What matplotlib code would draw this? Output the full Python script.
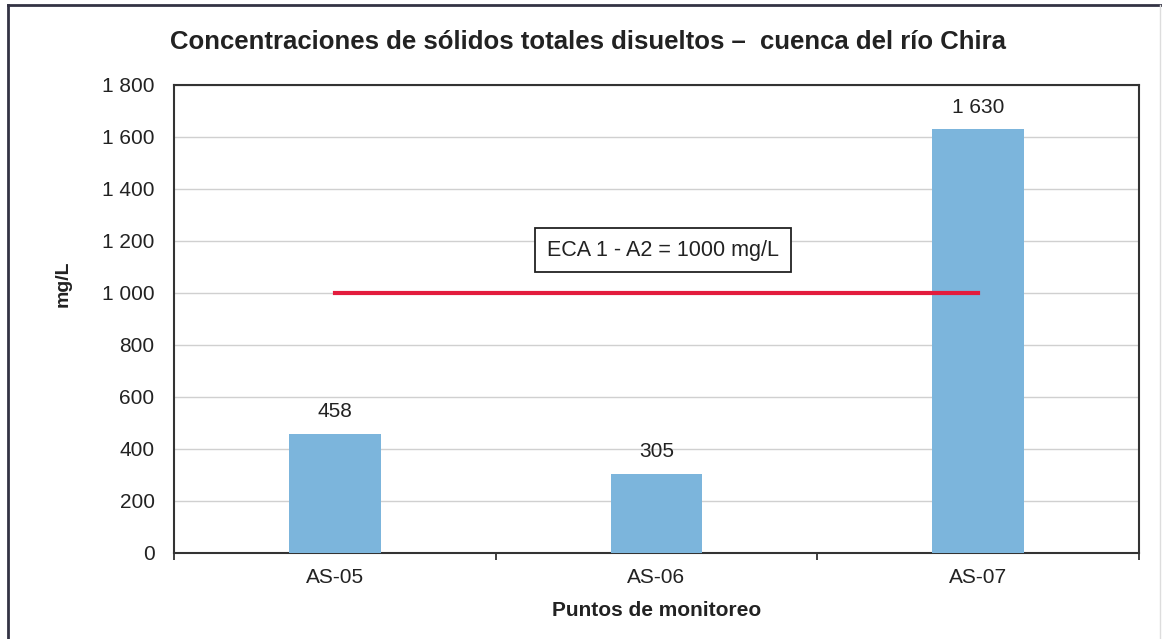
import matplotlib
matplotlib.use("Agg")
import matplotlib.pyplot as plt
from matplotlib.lines import Line2D
from matplotlib.ticker import FuncFormatter, MultipleLocator

categories = ["AS-05", "AS-06", "AS-07"]
values = [458, 305, 1630]
value_labels = ["458", "305", "1 630"]
eca_value = 1000
eca_label = "ECA 1 - A2 = 1000 mg/L"
title = "Concentraciones de sólidos totales disueltos –  cuenca del río Chira"
xlabel = "Puntos de monitoreo"
ylabel = "mg/L"

plt.rcParams['font.family'] = ['Liberation Sans', 'DejaVu Sans']

W, H = 1162, 639
fig = plt.figure(figsize=(W / 100, H / 100), dpi=100)
ax = fig.add_axes([174 / W, 1 - 553 / H, (1139 - 174) / W, (553 - 85) / H])

FS = 15
x = list(range(len(categories)))
ax.bar(x, values, width=0.286, color='#7cb5dc', zorder=3)
for xi, v, lab in zip(x, values, value_labels):
    ax.annotate(lab, (xi, v), xytext=(0, 9), textcoords='offset points',
                ha='center', va='bottom', fontsize=FS, color='#222222')

ax.plot([x[0], x[-1]], [eca_value, eca_value], color='#e31c3d', lw=3, zorder=4)
ax.text(1.02, 1165, eca_label, ha='center', va='center', fontsize=15.5, color='#222222',
        bbox=dict(boxstyle='square,pad=0.55', fc='white', ec='#222222', lw=1.3), zorder=5)

ax.set_xlim(-0.5, 2.5)
ax.set_ylim(0, 1800)
ax.yaxis.set_major_locator(MultipleLocator(200))
ax.yaxis.set_major_formatter(FuncFormatter(lambda v, p: f"{int(v):,}".replace(",", " ")))
ax.yaxis.grid(True, color='#d0d0d0', lw=1)
ax.set_axisbelow(True)

ax.set_xticks(x)
ax.set_xticklabels(categories)
ax.set_xticks([-0.5, 0.5, 1.5, 2.5], minor=True)
ax.tick_params(axis='x', which='major', length=0, pad=11, labelsize=FS, labelcolor='#222222')
ax.tick_params(axis='x', which='minor', length=5, width=1.3, direction='out', color='#333333')
ax.tick_params(axis='y', length=0, pad=14, labelsize=FS, labelcolor='#222222')

for s in ax.spines.values():
    s.set_color('#333333')
    s.set_linewidth(1.5)

ax.set_xlabel(xlabel, fontsize=15, fontweight='bold', labelpad=10, color='#222222')
fig.text(63 / W, 1 - 284 / H, ylabel, rotation=90, ha='center', va='center', fontsize=14,
         fontweight='bold', color='#222222')
fig.text(588 / W, 1 - 42 / H, title, ha='center', va='center', fontsize=18.5,
         fontweight='bold', color='#222222')

# outer frame of the figure
fig.add_artist(Line2D([8 / W, 8 / W], [0, 1 - 5 / H], transform=fig.transFigure, color='#333344', lw=2))
fig.add_artist(Line2D([8 / W, 1], [1 - 5 / H, 1 - 5 / H], transform=fig.transFigure, color='#333344', lw=2))
fig.add_artist(Line2D([1160 / W, 1160 / W], [0, 1 - 5 / H], transform=fig.transFigure, color='#dddddd', lw=1))

fig.savefig("out.png", dpi=100)
